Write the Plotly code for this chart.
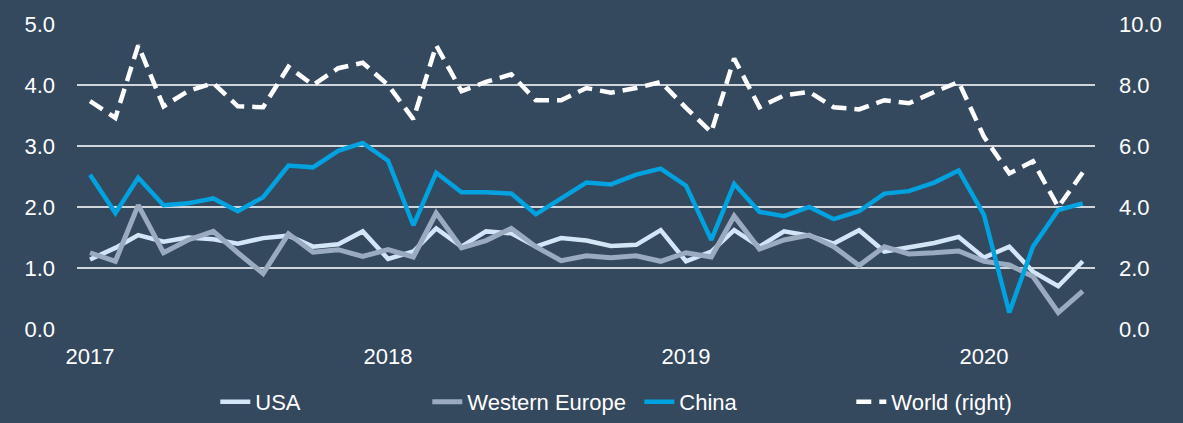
import plotly.graph_objects as go
import pandas as pd

months = [d.strftime("%Y-%m-%d") for d in pd.date_range("2017-01-01", "2020-05-01", freq="MS")]

usa = [1.14, 1.33, 1.54, 1.43, 1.50, 1.47, 1.40, 1.49, 1.53, 1.35, 1.39, 1.60,
       1.15, 1.27, 1.65, 1.35, 1.60, 1.57, 1.35, 1.49, 1.45, 1.36, 1.38, 1.62,
       1.11, 1.27, 1.62, 1.35, 1.60, 1.53, 1.40, 1.62, 1.27, 1.33, 1.41, 1.51,
       1.17, 1.35, 0.94, 0.70, 1.11]
western_europe = [1.25, 1.11, 2.03, 1.25, 1.46, 1.60, 1.25, 0.91, 1.56, 1.26, 1.30, 1.19,
                  1.30, 1.18, 1.90, 1.33, 1.45, 1.65, 1.35, 1.12, 1.20, 1.17, 1.20, 1.11,
                  1.25, 1.18, 1.85, 1.31, 1.46, 1.54, 1.35, 1.04, 1.35, 1.23, 1.25, 1.28,
                  1.11, 1.05, 0.86, 0.27, 0.62]
china = [2.53, 1.90, 2.48, 2.03, 2.06, 2.14, 1.93, 2.16, 2.68, 2.65, 2.92, 3.05,
         2.76, 1.70, 2.56, 2.24, 2.24, 2.22, 1.88, 2.13, 2.40, 2.37, 2.53, 2.63,
         2.35, 1.46, 2.38, 1.92, 1.85, 2.00, 1.80, 1.93, 2.22, 2.26, 2.40, 2.60,
         1.87, 0.27, 1.35, 1.95, 2.06]
world = [7.47, 6.92, 9.30, 7.30, 7.80, 8.06, 7.30, 7.27, 8.60, 8.00, 8.55, 8.73,
         8.00, 6.88, 9.30, 7.80, 8.10, 8.35, 7.50, 7.50, 7.90, 7.75, 7.90, 8.10,
         7.25, 6.45, 8.87, 7.27, 7.66, 7.77, 7.27, 7.20, 7.50, 7.40, 7.77, 8.10,
         6.30, 5.10, 5.50, 4.00, 5.13]

year_ticks = ["2017-01-01", "2018-01-01", "2019-01-01", "2020-01-01"]
year_labels = ["2017", "2018", "2019", "2020"]

BG = "#34485e"
FONT = "Liberation Sans, Arial, sans-serif"
FS = 22

fig = go.Figure()
fig.add_trace(go.Scatter(x=months, y=usa, name="USA", mode="lines",
                         line=dict(color="#d3e6f7", width=4.5)))
fig.add_trace(go.Scatter(x=months, y=western_europe, name="Western Europe", mode="lines",
                         line=dict(color="#9aabc0", width=5)))
fig.add_trace(go.Scatter(x=months, y=china, name="China", mode="lines",
                         line=dict(color="#00a3e0", width=4.5)))
fig.add_trace(go.Scatter(x=months, y=world, name="World (right)", mode="lines", yaxis="y2",
                         line=dict(color="#ffffff", width=4.5, dash="15px,8px")))

fig.update_layout(
    width=1183, height=423,
    paper_bgcolor=BG, plot_bgcolor=BG,
    margin=dict(l=77, r=88, t=22, b=93),
    font=dict(family=FONT, size=FS, color="#ffffff"),
    showlegend=True,
    legend=dict(orientation="h", x=0.182, xanchor="left", xref="container",
                y=0, yanchor="bottom", yref="container",
                entrywidth=167, entrywidthmode="pixels",
                font=dict(size=FS, color="#ffffff"), bgcolor="rgba(0,0,0,0)"),
    xaxis=dict(range=["2016-12-16", "2020-05-16"], tickvals=year_ticks, ticktext=year_labels,
               showgrid=False, zeroline=False, showline=False, ticks="",
               ticklabelstandoff=12, tickfont=dict(size=FS, color="#ffffff")),
    yaxis=dict(range=[0, 5], dtick=1, tickformat=".1f", showgrid=True,
               gridcolor="#d0d6dc", gridwidth=2, zeroline=False, showline=False,
               ticks="", ticklabelstandoff=21, tickfont=dict(size=FS, color="#ffffff")),
    yaxis2=dict(range=[0, 10], dtick=2, tickformat=".1f", overlaying="y", side="right",
                showgrid=False, zeroline=False, showline=False, ticks="",
                ticklabelstandoff=23, tickfont=dict(size=FS, color="#ffffff")),
)

fig.write_html("out.html", config={"displayModeBar": False},
               post_script="document.body.style.margin='0';document.body.style.background='%s';" % BG)
